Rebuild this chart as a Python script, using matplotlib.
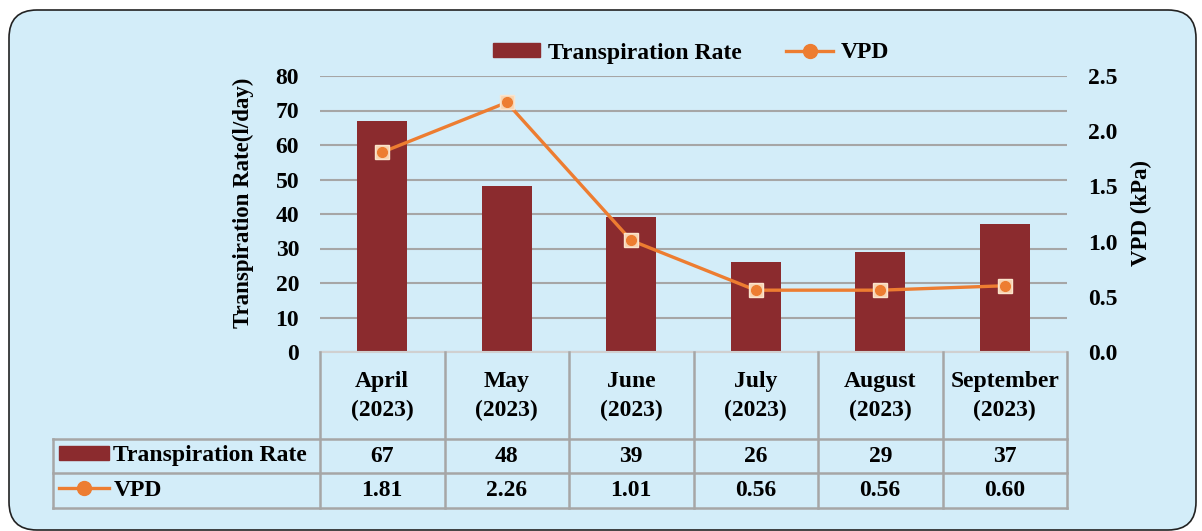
import matplotlib.pyplot as plt
import matplotlib.transforms as mtransforms
from matplotlib.patches import FancyBboxPatch, Patch
from matplotlib.lines import Line2D

months = ["April", "May", "June", "July", "August", "September"]
year = "2023"
transpiration = [67, 48, 39, 26, 29, 37]
vpd = [1.81, 2.26, 1.01, 0.56, 0.56, 0.60]

BAR = "#8B2B2E"
LINE = "#ED7D31"
BG = "#D3EDF9"
GRID = "#A6A6A6"

plt.rcParams["font.family"] = ["Liberation Serif", "DejaVu Serif"]
plt.rcParams["font.weight"] = "bold"

W, H = 1202, 531
fig = plt.figure(figsize=(W / 100, H / 100), dpi=100)
fig.patch.set_facecolor("white")


def fx(px):
    return px / W


def fy(py):
    return 1 - py / H


# rounded light-blue panel behind everything (display pixels)
panel = FancyBboxPatch((9, H - 530), 1187, 520,
                       boxstyle="round,pad=0,rounding_size=28",
                       transform=mtransforms.IdentityTransform(),
                       facecolor=BG, edgecolor="#222222", lw=1.2, zorder=-5)
fig.patches.append(panel)

ax = fig.add_axes([fx(320), fy(352), fx(1067) - fx(320), (352 - 76) / H])
ax.set_facecolor("none")
x = list(range(len(months)))

ax.bar(x, transpiration, width=0.4, color=BAR, zorder=2)
ax.set_xlim(-0.5, len(months) - 0.5)
ax.set_ylim(0, 80)
ax.set_yticks(range(0, 81, 10))
ax.set_xticks([])
ax.yaxis.grid(True, color=GRID, lw=1.5)
ax.set_axisbelow(True)
for s in ["top", "left", "right"]:
    ax.spines[s].set_visible(False)
ax.spines["bottom"].set_color("#D0D0D0")
ax.spines["bottom"].set_linewidth(1.5)
ax.tick_params(axis="y", length=0, pad=15, labelsize=17)

ax2 = ax.twinx()
ax2.set_ylim(0, 2.5)
ax2.set_yticks([0, 0.5, 1.0, 1.5, 2.0, 2.5])
ax2.set_yticklabels([f"{t:.1f}" for t in ax2.get_yticks()])
for s in ax2.spines.values():
    s.set_visible(False)
ax2.tick_params(axis="y", length=0, pad=15, labelsize=17)

ax2.plot(x, vpd, color=LINE, lw=2.4, zorder=3)
ax2.plot(x, vpd, ls="none", marker="s", ms=10, mfc="#F8D3B0", mec="#FBE4CC",
         mew=1, zorder=4)
ax2.plot(x, vpd, ls="none", marker="o", ms=7, mfc=LINE, mec=LINE, zorder=5)

fig.text(fx(243), fy(203), "Transpiration Rate(l/day)", rotation=90,
         ha="center", va="center", fontsize=16.5)
fig.text(fx(1141), fy(213), "VPD (kPa)", rotation=90,
         ha="center", va="center", fontsize=16.5)

bar_key = Patch(color=BAR, label="Transpiration Rate")
line_key = Line2D([0], [0], color=LINE, lw=2.4, marker="o", ms=10,
                  label="VPD")

fig.legend(handles=[bar_key, line_key], loc="center",
           bbox_to_anchor=(fx(691), fy(53)), ncol=2, frameon=False,
           fontsize=17, handlelength=2.0, handleheight=0.5,
           handletextpad=0.3, columnspacing=1.9, borderpad=0,
           borderaxespad=0)

# data table under the plot
tr = mtransforms.blended_transform_factory(ax.transData, fig.transFigure)
grid_kw = dict(color=GRID, lw=1.8, zorder=1)
for i in range(len(months) + 1):
    fig.add_artist(Line2D([i - 0.5, i - 0.5], [fy(352), fy(508)],
                          transform=tr, **grid_kw))
for py in [439, 473, 508]:
    fig.add_artist(Line2D([fx(53), fx(1067)], [fy(py), fy(py)],
                          transform=fig.transFigure, **grid_kw))
fig.add_artist(Line2D([fx(53), fx(53)], [fy(439), fy(508)],
                      transform=fig.transFigure, **grid_kw))

for i, m in enumerate(months):
    fig.text(i, fy(396), f"{m}\n({year})", transform=tr, ha="center",
             va="center", fontsize=17, linespacing=1.45)
    fig.text(i, fy(456), f"{transpiration[i]}", transform=tr, ha="center",
             va="center", fontsize=17)
    fig.text(i, fy(490), f"{vpd[i]:.2f}", transform=tr, ha="center",
             va="center", fontsize=17)

for key, py in [(bar_key, 456), (line_key, 490)]:
    fig.legend(handles=[key], loc="center left",
               bbox_to_anchor=(fx(59), fy(py)), frameon=False, fontsize=17,
               handlelength=2.1, handleheight=0.5, handletextpad=0.2,
               borderpad=0, borderaxespad=0)

fig.savefig("out.png", dpi=100, facecolor="white")
